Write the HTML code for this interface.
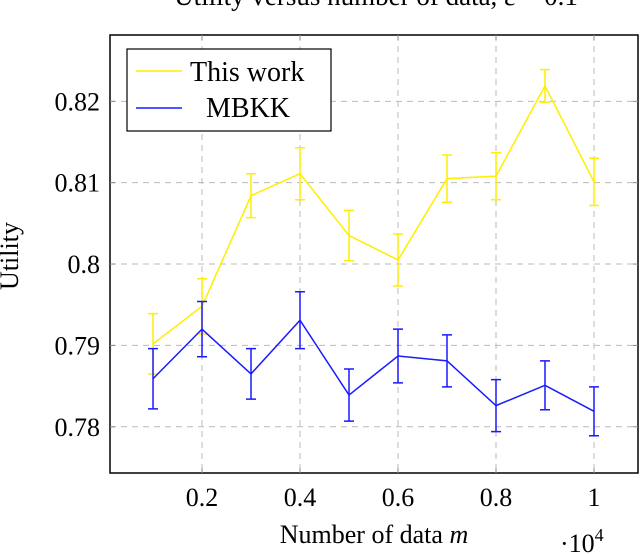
<!DOCTYPE html>
<html><head><meta charset="utf-8"><style>
body{margin:0;background:#fff}
svg{display:block;font-family:"Liberation Serif",serif}
</style></head><body>
<svg id="chart" width="640" height="554" viewBox="0 0 640 554">
<text x="376" y="5" font-size="27" text-anchor="middle">Utility versus number of data, ε = 0.1</text>
<g id="grid"></g>
<g id="series"></g>
<rect x="110" y="35" width="528" height="438" fill="none" stroke="#000" stroke-width="1.5"/>
<g id="ticks"></g>
<text x="18" y="256" font-size="26" text-anchor="middle" transform="rotate(-90 18 256)">Utility</text>
<text x="374" y="543" font-size="26" text-anchor="middle">Number of data <tspan font-style="italic">m</tspan></text>
<text x="560" y="552" font-size="26">·10<tspan font-size="18" dy="-11">4</tspan></text>
<g>
<rect x="127" y="49" width="204" height="82" fill="#fff" stroke="#000" stroke-width="1.2"/>
<line x1="136" y1="71" x2="182" y2="71" stroke="#ffee00" stroke-width="1.5"/>
<text x="190" y="81" font-size="28">This work</text>
<line x1="136" y1="108" x2="182" y2="108" stroke="#1a1aff" stroke-width="1.5"/>
<text x="206" y="117" font-size="28">MBKK</text>
</g>
</svg>
<script>
const xs = [0.1,0.2,0.3,0.4,0.5,0.6,0.7,0.8,0.9,1.0];
const thisWork = [0.7902,0.7948,0.8084,0.8111,0.8035,0.8005,0.8105,0.8108,0.8219,0.8101];
const thisWorkErr = [0.0037,0.0034,0.0027,0.0032,0.0031,0.0032,0.0029,0.0029,0.0020,0.0029];
const mbkk = [0.7859,0.7920,0.7865,0.7931,0.7839,0.7887,0.7881,0.7826,0.7851,0.7819];
const mbkkErr = [0.0037,0.0034,0.0031,0.0035,0.0032,0.0033,0.0032,0.0032,0.0030,0.0030];
const xTicks = [0.2,0.4,0.6,0.8,1];
const xTickLabels = ["0.2","0.4","0.6","0.8","1"];
const yTicks = [0.78,0.79,0.8,0.81,0.82];
const yTickLabels = ["0.78","0.79","0.8","0.81","0.82"];

const X0=110,X1=638,Y0=473,Y1=35;
const xmin=0.0122,xmax=1.0898,ymin=0.77432,ymax=0.82815;
function xs2p(v){return X0+(v-xmin)/(xmax-xmin)*(X1-X0);}
function ys2p(v){return Y0-(v-ymin)/(ymax-ymin)*(Y0-Y1);}
const NS="http://www.w3.org/2000/svg";
function mk(tag,attrs,parent){const e=document.createElementNS(NS,tag);for(const k in attrs)e.setAttribute(k,attrs[k]);parent.appendChild(e);return e;}
const grid=document.getElementById('grid'),ticks=document.getElementById('ticks'),ser=document.getElementById('series');
xTicks.forEach((t,i)=>{const x=xs2p(t);
 const g=mk('line',{x1:x,x2:x,y1:Y1,y2:Y0,stroke:'#bbb','stroke-dasharray':'6 5','stroke-width':1},grid);
 
 
 mk('line',{x1:x,x2:x,y1:Y0,y2:Y0-5,stroke:'#888'},ticks);
 mk('line',{x1:x,x2:x,y1:Y1,y2:Y1+5,stroke:'#888'},ticks);
 const tx=mk('text',{x:x,y:506,'font-size':26,'text-anchor':'middle'},ticks);tx.textContent=xTickLabels[i];
 
 
});
yTicks.forEach((t,i)=>{const y=ys2p(t);
 const g=mk('line',{x1:X0,x2:X1,y1:y,y2:y,stroke:'#bbb','stroke-dasharray':'6 5','stroke-width':1},grid);
 
 
 mk('line',{x1:X0,x2:X0+5,y1:y,y2:y,stroke:'#888'},ticks);
 mk('line',{x1:X1,x2:X1-5,y1:y,y2:y,stroke:'#888'},ticks);
 const tx=mk('text',{x:100,y:y+9,'font-size':26,'text-anchor':'end'},ticks);tx.textContent=yTickLabels[i];
 
 
});
function drawSeries(vals,errs,color,name){
 const g=mk('g',{},ser);
 
 
 vals.forEach((v,i)=>{const x=xs2p(xs[i]),yt=ys2p(v+errs[i]),yb=ys2p(v-errs[i]);
  const e=mk('path',{d:`M${x-5},${yt}H${x+5}M${x},${yt}V${yb}M${x-5},${yb}H${x+5}`,stroke:color,'stroke-width':1.5,fill:'none'},g);
  
  
 });
 const p=mk('polyline',{points:vals.map((v,i)=>xs2p(xs[i])+','+ys2p(v)).join(' '),stroke:color,'stroke-width':1.5,fill:'none'},g);
 
 
}
drawSeries(thisWork,thisWorkErr,'#ffee00','this-work');
drawSeries(mbkk,mbkkErr,'#1a1aff','mbkk');
</script>
</body></html>
